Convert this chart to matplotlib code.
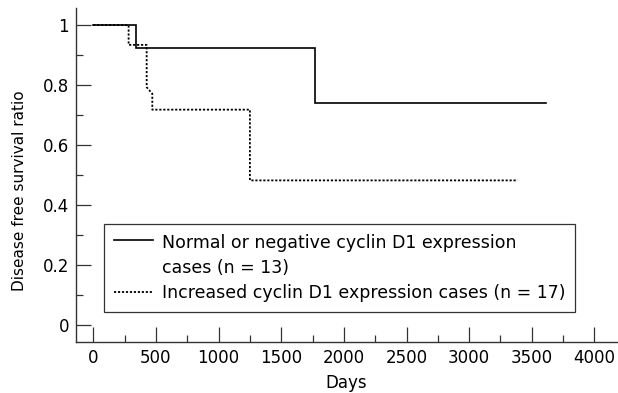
import matplotlib
matplotlib.use("Agg")
import numpy as np
import matplotlib.pyplot as plt
from matplotlib.ticker import MultipleLocator
from matplotlib.legend_handler import HandlerLine2D

# Data
normal_days = [0, 338, 338, 1768, 1768, 3610]
normal_surv = [1.0, 1.0, 0.923, 0.923, 0.740, 0.740]
increased_days = [0, 282, 282, 426, 426, 471, 471, 1250, 1250, 3387]
increased_surv = [1.0, 1.0, 0.934, 0.934, 0.793, 0.771, 0.718, 0.718, 0.482, 0.482]

labels = ["Normal or negative cyclin D1 expression\ncases (n = 13)",
          "Increased cyclin D1 expression cases (n = 17)"]
xticks = [0, 500, 1000, 1500, 2000, 2500, 3000, 3500, 4000]
yticks = [0, 0.2, 0.4, 0.6, 0.8, 1.0]
yticklabels = ["0", "0.2", "0.4", "0.6", "0.8", "1"]


class ShiftedHandler(HandlerLine2D):
    def __init__(self, dy, **kw):
        super().__init__(**kw)
        self.dy = dy

    def create_artists(self, legend, orig_handle, xdescent, ydescent, width, height,
                       fontsize, trans):
        arts = super().create_artists(legend, orig_handle, xdescent, ydescent, width,
                                      height, fontsize, trans)
        for a in arts:
            a.set_ydata(np.asarray(a.get_ydata()) + self.dy)
        return arts


plt.rcParams['font.family'] = ['DejaVu Sans']
fig = plt.figure(figsize=(6.18, 3.93), dpi=100)
W, H = 618, 393
ax = fig.add_axes([76 / W, 1 - 342 / H, (617 - 76) / W, (342 - 8) / H])

l1, = ax.plot(normal_days, normal_surv, color="black", lw=1.2, solid_joinstyle="miter")
l2, = ax.plot(increased_days, increased_surv, color="black", lw=1.3, linestyle=(0, (1.2, 1.0)))

ax.set_xlim(-138, 4180)
ax.set_ylim(-0.057, 1.057)
ax.set_xticks(xticks)
ax.set_xticklabels([str(t) for t in xticks])
ax.set_yticks(yticks)
ax.set_yticklabels(yticklabels)
ax.xaxis.set_minor_locator(MultipleLocator(250))
ax.yaxis.set_minor_locator(MultipleLocator(0.1))

for s in ["top", "right"]:
    ax.spines[s].set_visible(False)
for s in ["left", "bottom"]:
    ax.spines[s].set_color("#333333")
    ax.spines[s].set_linewidth(1.0)

ax.tick_params(which="major", direction="in", length=10.5, width=0.9, color="#333333",
               labelsize=12, pad=5)
ax.tick_params(which="minor", direction="in", length=5, width=0.9, color="#333333")
ax.tick_params(axis="x", which="major", pad=5)

ax.set_xlabel("Days", fontsize=12, labelpad=5)
ax.set_ylabel("Disease free survival ratio", fontsize=11)
ax.yaxis.set_label_coords(-0.09, 0.452)

leg = ax.legend([l1, l2], labels, loc="upper left",
                bbox_to_anchor=((104 - 76) / (617 - 76), (342 - 224) / (342 - 8)),
                fontsize=12.5, frameon=True, fancybox=False, handlelength=2.3,
                handletextpad=0.5, borderaxespad=0, borderpad=0.55, labelspacing=0.45,
                handleheight=0.7, handler_map={l1: ShiftedHandler(11.5)})
for t in leg.get_texts():
    t.set_linespacing(1.5)
leg.get_frame().set_edgecolor("black")
leg.get_frame().set_linewidth(0.9)

fig.savefig("out.png", dpi=100)
